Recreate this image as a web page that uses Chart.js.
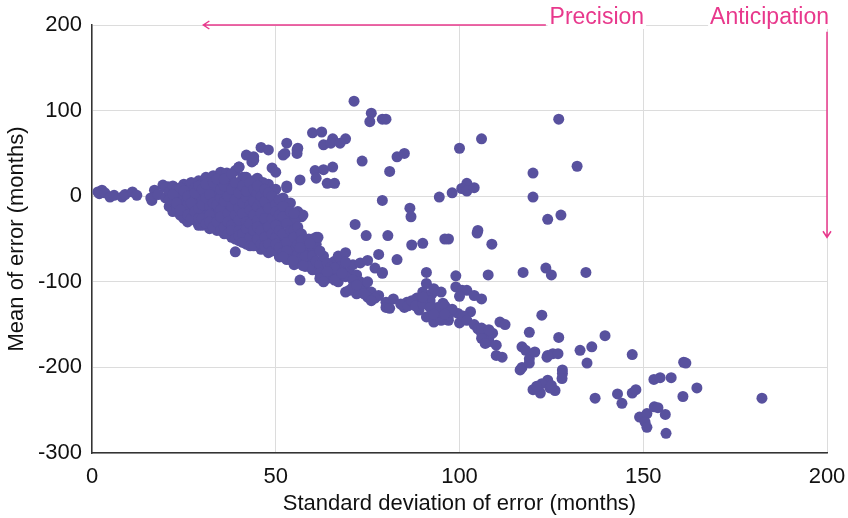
<!DOCTYPE html>
<html>
<head>
<meta charset="utf-8">
<script src="https://cdn.jsdelivr.net/npm/chart.js@4.4.1/dist/chart.umd.min.js"></script>
<style>
  html, body { margin: 0; padding: 0; background: #fff; }
  #wrap { width: 848px; height: 518px; }
</style>
</head>
<body>
<div id="wrap"><canvas id="scatterChart" width="848" height="518"></canvas></div>
<script>
// [sd, mean] pairs, grouped by region
const tailPoints = [
  [1.6, 5], [2.7, 7], [2, 3], [3.5, 4], [4.9, -1], [6, 1], [8.2, -1], [9, 2], [11, 5], [12.2, 1],
  [16.3, -5], [17, 7], [19.3, 13], [20.7, 11], [16, -2], [18, 2]
];

const corePoints = [
  [20, 10], [20, -2], [21, 5], [21, -12], [22, 12], [22, -6], [22, -18], [23, 0], [23, 8], [23, -14], [24, -22], [24, 4], [24, -8],
  [25, 14], [25, -4], [25, -16], [25, -26], [26, 6], [26, -10], [26, -30], [27, 16], [27, -2], [27, -20], [28, 10], [28, -12], [28, -28], [29, 18], [29, -6], [29, -34], [29, 2],
  [30, 14], [30, -18], [30, -34], [30, -2], [31, 22], [31, 6], [31, -10], [31, -26], [32, -38], [32, 16], [32, -4], [33, -16], [33, -30], [33, 24], [33, 8], [34, -40], [34, 0], [34, -22], [34, 14],
  [35, 28], [35, -8], [35, -34], [35, 18], [36, -44], [36, 4], [36, -20], [36, -28], [37, 26], [37, -12], [37, 10], [37, -38], [38, -48], [38, -2], [38, 18], [38, -24], [39, 30], [39, -32], [39, -44], [39, 6], [39, -14],
  [40, 34], [40, -6], [40, -52], [40, -20], [40, 12], [41, -36], [41, -28], [41, 22], [41, 2], [42, -46], [42, -14], [42, -56], [42, 14], [43, -4], [43, -24], [43, -40], [43, 8], [44, -50], [44, -32], [44, 18], [44, -12], [44, 0],
  [45, 20], [45, -20], [45, -58], [45, -42], [45, -4], [46, -30], [46, 10], [46, -62], [46, -50], [47, -14], [47, -38], [47, 2], [48, -24], [48, -46], [48, -66], [48, 14], [49, -8], [49, -34], [49, -56], [49, -18],
  [50, 8], [50, -40], [50, -62], [50, -26], [51, -12], [51, -70], [51, -50], [52, -2], [52, -32], [52, -58], [53, -20], [53, -44], [53, -74], [53, 10], [54, -28], [54, -64], [54, -52], [54, -8],
  [55, -30], [55, -70], [55, -58], [56, -18], [56, -78], [56, -46], [57, -24], [57, -62], [58, -54], [58, -82], [59, -60], [59, -72], [60, -50], [60, -86],
  [39, -65], [47.6, -63], [51, -71], [36.7, 27], [41.6, 22], [45, 21], [46.5, 16], [39.5, 11], [34.3, 11],
  [57.4, -22], [55.2, -29], [51.7, -16], [53, -14]
];

const coreFill = [
  [21, -4], [22, 2], [23, -8], [24, 10], [24, -16], [25, 6], [26, -22], [26, 0], [27, -8], [27, -26], [28, 4], [28, -18],
  [29, 12], [29, -14], [29, -26], [30, 8], [30, -10], [30, -26], [31, -2], [31, 14], [31, -32], [32, 2], [32, -12], [32, -22],
  [32, -30], [33, -8], [33, 16], [33, -36], [34, -10], [34, 20], [34, -30], [35, -2], [35, 8], [35, -16], [35, -24], [35, -40],
  [36, 12], [36, -6], [36, -36], [36, 20], [37, 0], [37, -20], [37, -30], [37, -44], [38, 8], [38, -12], [38, -34], [38, -40],
  [38, 26], [39, -4], [39, -22], [39, 16], [39, -50], [40, -14], [40, -28], [40, -40], [40, -46], [40, 4], [41, -8], [41, -20],
  [41, -44], [41, 12], [41, -54], [42, -2], [42, -30], [42, -38], [42, 6], [42, 22], [43, -10], [43, -16], [43, -32], [43, -48],
  [43, -58], [43, 16], [44, -6], [44, -22], [44, -40], [44, -58], [44, 8], [45, -12], [45, -28], [45, -36], [45, -50], [45, 4],
  [45, 12], [46, -6], [46, -20], [46, -40], [46, 0], [46, -56], [47, -26], [47, -48], [47, -58], [47, -6], [47, 8], [48, -36],
  [48, -56], [48, -14], [48, 4], [49, -26], [49, -44], [49, -64], [49, 0], [50, -10], [50, -18], [50, -34], [50, -48], [50, -56],
  [51, -4], [51, -22], [51, -40], [51, -60], [52, -12], [52, -24], [52, -44], [52, -66], [53, -32], [53, -54], [53, -64], [54, -18],
  [54, -40], [54, -74], [55, -20], [55, -40], [55, -48], [55, -80], [56, -36], [56, -56], [56, -68], [57, -44], [57, -52], [57, -72],
  [58, -62], [58, -70], [59, -50], [59, -82], [60, -60], [60, -70], [61, -56], [61, -76], [62, -80], [63, -70], [64, -96], [65, -92],
  [66, -76], [67, -88], [67, -100], [68, -80], [70, -88], [71, -80], [72, -92], [73, -100], [74, -108], [73, -110], [76, -112],
  [78, -116], [72, -114]
];

const upperWing = [
  [46, 57], [48, 54], [42, 48], [43.5, 40], [44, 42], [40, 34], [49, 33], [50, 28], [52, 48], [44, 46],
  [53, 62], [56, 56], [52.5, 50], [55.8, 50], [55.8, 54], [60, 74], [62.5, 75], [65.5, 67], [69, 67],
  [63, 60], [65, 62], [67.5, 62], [60.7, 30], [63, 31], [65.5, 34], [61, 21], [64, 15], [66, 15],
  [56.6, 19], [53, 12], [73.5, 41], [71.3, 111], [76, 97], [75.6, 87], [79, 90], [80, 90]
];

const lowerBand = [
  [61, -48], [61.5, -48], [59.3, -55], [56.6, -60], [52, -71], [54.7, -75], [57.4, -81], [56.6, -98],
  [62, -90], [62, -64], [63, -94], [64, -78], [65, -83], [66, -84], [66, -98], [67, -70], [69, -66], [69, -77],
  [69, -94], [71, -98], [73, -78], [75, -75], [75, -100], [78, -68], [77, -84], [79, -89], [69, -112], [70, -110],
  [71, -106], [75, -118], [77, -119], [80, -124], [80, -130], [62, -96], [63, -100], [64, -88], [68, -90],
  [72, -104], [74, -114], [76, -122],
  [80.5, -46], [83, -74], [87, -57], [90, -55], [97, -50], [96, -50], [79, -90], [91, -89], [99, -93],
  [91, -102], [90, -112], [92.5, -114], [95, -112], [99, -106], [100.7, -110], [102, -110], [100, -117],
  [104, -116], [106, -120], [85.7, -124], [88.4, -119], [85, -130], [81, -131], [89, -133], [91, -141],
  [93, -147], [95, -145], [97, -145], [99.6, -137], [103, -135], [100, -148], [95.5, -125], [92, -122],
  [94, -136], [97, -140], [94, -130],
  [82, -120], [84, -126], [86, -128], [87, -122], [88, -128], [90, -126], [92, -130], [93, -138], [96, -128],
  [98, -132], [101, -140], [102, -145], [104, -150], [96, -138], [90, -118], [93, -108],
  [105, -155], [106, -160], [107, -158], [108, -165], [106, -166], [108, -170], [109, -160], [107, -172],
  [110, -174], [106, -154], [108, -156], [110, -186], [111.6, -188], [111, -147], [112.4, -150],
  [117, -176], [118, -180], [117, -200], [119, -195], [119, -190]
];

const farPoints = [
  [116.5, -203], [119, -159], [120.5, -182], [123.8, -188], [125.4, -184], [126.8, -184], [124, -186],
  [122.4, -139], [127, -165], [132.8, -180], [136, -176], [134.7, -195], [128, -203], [128, -207],
  [127.9, -213], [124, -215], [122.4, -219], [126, -227], [122, -230], [124.6, -224], [125, -221],
  [139.6, -163], [147, -185], [136.9, -236], [143, -231], [144.2, -242], [147, -230], [148, -226],
  [152.9, -214], [154.6, -212], [157.6, -212], [161, -194], [161.6, -195], [160.8, -234], [164.6, -224],
  [149, -258], [151, -254], [150.5, -264], [151, -270], [153, -246], [154, -247], [156, -255],
  [156.2, -277], [182.3, -236], [120, -226], [121, -222]
];

const scatteredPoints = [
  [83, 46], [85, 50], [81, 29], [79, -5], [71.6, -33], [74.6, -46], [86.5, -14], [86.8, -24],
  [127, 90], [106, 67], [100, 56], [120, 27], [132, 35], [102, 15], [100.6, 9], [102, 6], [104, 10],
  [98, 4], [94.5, -1], [120, -1], [127.6, -22], [124, -27], [105, -40], [104.8, -43], [108.8, -56],
  [123.5, -84], [125, -92], [117.3, -89], [107.8, -92], [134.4, -89]
];

const xTicks = [0, 50, 100, 150, 200];
const yTicks = [-300, -200, -100, 0, 100, 200];

const pointColor = 'rgb(88, 81, 158)';
const accent = '#e8388c';
const fontFamily = '"Liberation Sans", Arial, Helvetica, sans-serif';

const allPoints = [].concat(tailPoints, corePoints, coreFill, upperWing, lowerBand, farPoints, scatteredPoints)
  .map(p => ({ x: p[0], y: p[1] }));

// annotations: "Precision" arrow along the top, "Anticipation" arrow down the right edge
const annotationPlugin = {
  id: 'annotations',
  afterDraw(chart) {
    const { ctx, scales: { x, y } } = chart;
    ctx.save();
    ctx.font = '23px ' + fontFamily;
    ctx.textBaseline = 'middle';

    const topY = y.getPixelForValue(200);

    // white boxes behind labels (they cover the top grid line)
    const precX = x.getPixelForValue(124.5);
    const precW = ctx.measureText('Precision').width;
    const antW = ctx.measureText('Anticipation').width;
    const antRight = x.getPixelForValue(200) + 2;
    ctx.fillStyle = '#fff';
    ctx.fillRect(precX - 2, topY - 20, precW + 4, 24);
    ctx.fillRect(antRight - antW - 2, topY - 20, antW + 4, 24);

    ctx.fillStyle = accent;
    ctx.textAlign = 'left';
    ctx.fillText('Precision', precX, topY - 7);
    ctx.textAlign = 'right';
    ctx.fillText('Anticipation', antRight, topY - 7);

    ctx.strokeStyle = accent;
    ctx.lineWidth = 1.5;

    // horizontal arrow
    const hx1 = x.getPixelForValue(123.5);
    const hx2 = x.getPixelForValue(30.3);
    ctx.beginPath();
    ctx.moveTo(hx1, topY);
    ctx.lineTo(hx2, topY);
    ctx.moveTo(hx2 + 6, topY - 4);
    ctx.lineTo(hx2, topY);
    ctx.lineTo(hx2 + 6, topY + 4);
    ctx.stroke();

    // vertical arrow
    const vx = x.getPixelForValue(200);
    const vy1 = y.getPixelForValue(192);
    const vy2 = y.getPixelForValue(-48);
    ctx.beginPath();
    ctx.moveTo(vx, vy1);
    ctx.lineTo(vx, vy2);
    ctx.moveTo(vx - 4, vy2 - 6);
    ctx.lineTo(vx, vy2);
    ctx.lineTo(vx + 4, vy2 - 6);
    ctx.stroke();

    ctx.restore();
  }
};

const ctx = document.getElementById('scatterChart').getContext('2d');
new Chart(ctx, {
  type: 'scatter',
  data: {
    datasets: [{
      data: allPoints,
      pointRadius: 5.5,
      pointHoverRadius: 5.5,
      pointBackgroundColor: pointColor,
      pointBorderWidth: 0,
      borderWidth: 0
    }]
  },
  options: {
    responsive: false,
    animation: false,
    events: [],
    layout: { padding: { top: 25, right: 21, left: 0, bottom: 0 } },
    plugins: { legend: { display: false }, tooltip: { enabled: false } },
    scales: {
      x: {
        type: 'linear',
        min: 0,
        max: 200,
        afterBuildTicks: (scale) => { scale.ticks = xTicks.map(v => ({ value: v })); },
        afterFit: (scale) => {
          scale.height = 65;
          // keep the last tick label from shrinking the plot
          scale.paddingRight = 0;
          scale.paddingLeft = 0;
        },
        grid: { color: '#dcdcdc', lineWidth: 1, drawTicks: false },
        border: { color: '#333', width: 1.5 },
        ticks: { color: '#111', padding: 11, font: { family: fontFamily, size: 22 }, maxRotation: 0 },
        title: {
          display: true,
          text: 'Standard deviation of error (months)',
          color: '#111',
          font: { family: fontFamily, size: 22 },
          padding: { top: 2, bottom: 1 }
        }
      },
      y: {
        type: 'linear',
        min: -300,
        max: 200,
        afterBuildTicks: (scale) => { scale.ticks = yTicks.map(v => ({ value: v })); },
        afterFit: (scale) => { scale.width = 92; },
        grid: { color: '#dcdcdc', lineWidth: 1, drawTicks: false },
        border: { color: '#333', width: 1.5 },
        ticks: { color: '#111', padding: 10, font: { family: fontFamily, size: 22 } },
        title: {
          display: true,
          text: 'Mean of error (months)',
          color: '#111',
          font: { family: fontFamily, size: 22 },
          padding: { top: 4, bottom: 4 }
        }
      }
    }
  },
  plugins: [annotationPlugin]
});
</script>
</body>
</html>
